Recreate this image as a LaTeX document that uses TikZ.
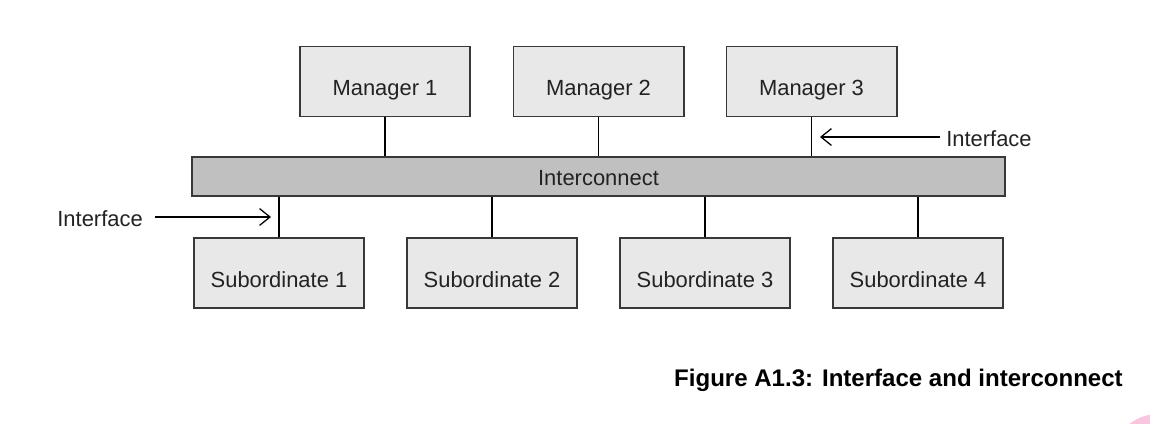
\documentclass[tikz,border=0pt]{standalone}
\usepackage{fontspec}
\setmainfont{Liberation Sans}
\usepackage{tikz}
\usetikzlibrary{arrows.meta}
\pgfdeclarelayer{edgelayer}
\pgfdeclarelayer{nodelayer}
\pgfsetlayers{edgelayer,nodelayer,main}
\definecolor{boxgray}{HTML}{E8E8E8}
\definecolor{busgray}{HTML}{C0C0C0}
\definecolor{edgegray}{HTML}{383838}
\definecolor{textgray}{HTML}{222222}
\definecolor{blush}{HTML}{F9C6E0}
\tikzstyle{none} = [inner sep=0pt]
\tikzstyle{unit} = [draw=edgegray, fill=boxgray, line width=1.4pt, minimum width=4.25cm, minimum height=1.75cm, text height=20pt, text depth=0pt, text=textgray, font=\fontsize{15.6}{18}\selectfont]
\tikzstyle{bus} = [draw=edgegray, fill=busgray, line width=1.4pt, minimum width=20.3cm, minimum height=0.97cm, text height=13.5pt, text depth=0pt, text=textgray, font=\fontsize{15.6}{18}\selectfont]
\tikzstyle{label} = [inner sep=0pt, text=textgray, font=\fontsize{15.6}{18}\selectfont]
\tikzstyle{wire} = [line width=0.9pt, draw=black]
\tikzstyle{pointer} = [line width=0.9pt, -{Straight Barb[length=2.6mm,width=4.2mm]}]

\begin{document}
\begin{tikzpicture}[x=0.025cm, y=-0.025cm]
	\useasboundingbox (0, 0) rectangle (1150, 423);
	\begin{scope}
		\clip (0, 0) rectangle (1150, 423);
		\fill [color=blush] (1158, 460) circle (46);
	\end{scope}
	\begin{pgfonlayer}{nodelayer}
		\node [style=unit] (0) at (385, 81.5) {Manager 1};
		\node [style=unit] (1) at (598.5, 81.5) {Manager 2};
		\node [style=unit] (2) at (811.5, 81.5) {Manager 3};
		\node [style=bus] (3) at (598.5, 176.5) {Interconnect};
		\node [style=unit] (4) at (279, 273) {Subordinate 1};
		\node [style=unit] (5) at (492, 273) {Subordinate 2};
		\node [style=unit] (6) at (705, 273) {Subordinate 3};
		\node [style=unit] (7) at (918, 273) {Subordinate 4};
		\node [style=label, anchor=west] (8) at (946, 139) {Interface};
		\node [style=label, anchor=east] (9) at (143, 219) {Interface};
		\node [style=none] (10) at (820, 137) {};
		\node [style=none] (11) at (271, 217) {};
		\node [style=none, anchor=south east, font=\fontsize{17.1}{20}\selectfont\bfseries] (12) at (1123, 392) {Figure A1.3: Interface and interconnect};
	\end{pgfonlayer}
	\begin{pgfonlayer}{edgelayer}
		\draw [style=wire] (0.south) to (0.south |- 3.north);
		\draw [style=wire] (1.south) to (1.south |- 3.north);
		\draw [style=wire] (2.south) to (2.south |- 3.north);
		\draw [style=wire] (4.north) to (4.north |- 3.south);
		\draw [style=wire] (5.north) to (5.north |- 3.south);
		\draw [style=wire] (6.north) to (6.north |- 3.south);
		\draw [style=wire] (7.north) to (7.north |- 3.south);
		\draw [style=pointer] ([xshift=-0.15cm]8.west |- 10) to (10.center);
		\draw [style=pointer] ([xshift=0.3cm]9.east |- 11) to (11.center);
	\end{pgfonlayer}
\end{tikzpicture}
\end{document}
